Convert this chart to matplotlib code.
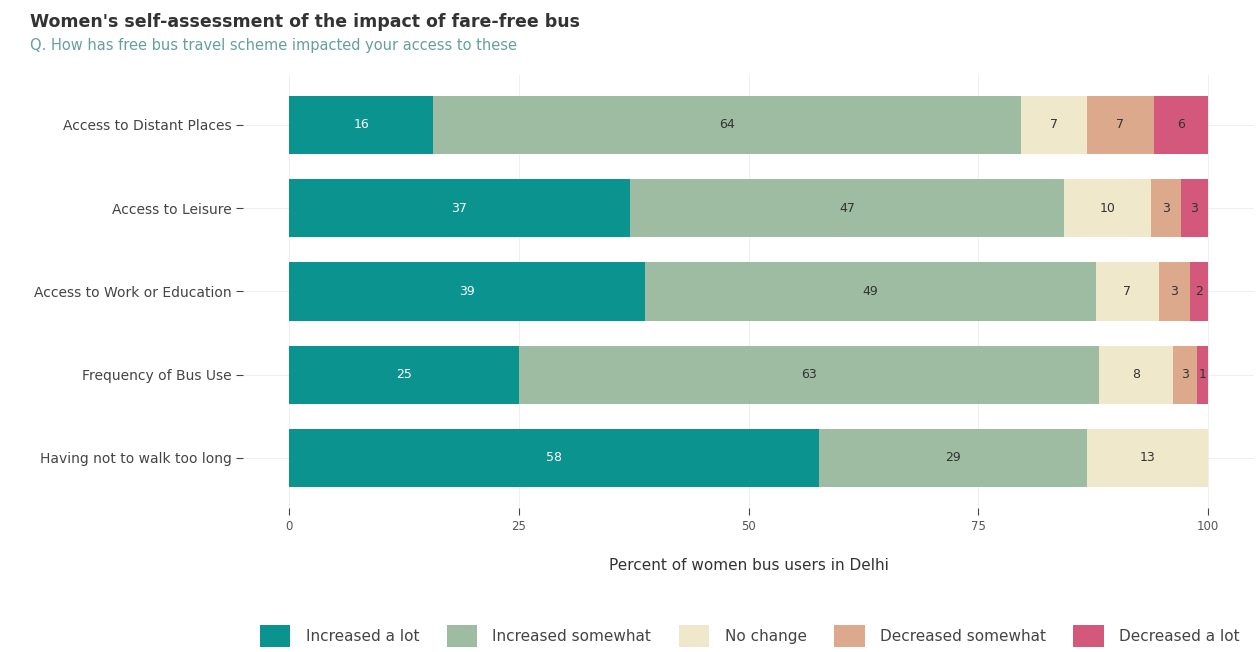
import numpy as np
import matplotlib
matplotlib.use("Agg")
import matplotlib.pyplot as plt
from matplotlib.patches import Patch

plt.rcParams['font.family'] = ['DejaVu Sans']

# data (percent, top category first)
categories = ["Access to Distant Places", "Access to Leisure", "Access to Work or Education",
              "Frequency of Bus Use", "Having not to walk too long"]
responses = ["Increased a lot", "Increased somewhat", "No change",
             "Decreased somewhat", "Decreased a lot"]
increased_lot = [15.7, 37.1, 38.7, 25.0, 57.7]
increased_some = [63.9, 47.2, 49.1, 63.1, 29.1]
no_change = [7.2, 9.5, 6.8, 8.1, 13.2]
decreased_some = [7.3, 3.2, 3.4, 2.6, 0.0]
decreased_lot = [5.9, 3.0, 2.0, 1.2, 0.0]

colors = ["#0b938f", "#9dbca1", "#efe8cb", "#dda98c", "#d4587c"]
text_colors = ["white", "#333333", "#333333", "#333333", "#333333"]

fig = plt.figure(figsize=(12.58, 6.52), dpi=100)
ax = fig.add_axes([0.1932, 0.221, 0.8037, 0.664])

series = [increased_lot, increased_some, no_change, decreased_some, decreased_lot]
y = np.arange(len(categories))[::-1]
left = np.zeros(len(categories))
for vals, col, tcol, name in zip(series, colors, text_colors, responses):
    vals = np.array(vals)
    ax.barh(y, vals, left=left, height=0.7, color=col, label=name, zorder=2)
    for yi, l, v in zip(y, left, vals):
        if v > 0:
            ax.text(l + v / 2, yi, f"{v:.0f}", ha='center', va='center',
                    fontsize=9, color=tcol, zorder=3)
    left += vals

# ggplot-like 5% expansion
ax.set_xlim(-5, 105)
ax.set_ylim(-0.6, 4.6)
ax.set_yticks(y)
ax.set_yticklabels(categories, fontsize=10, color="#444444")
ax.set_xticks([0, 25, 50, 75, 100])
ax.set_xticklabels(["0", "25", "50", "75", "100"], fontsize=8.5, color="#555555")
ax.tick_params(axis='y', length=5, width=0.8, color="#444444", pad=3)
ax.tick_params(axis='x', length=5, width=0.8, color="#444444", pad=4)
for s in ax.spines.values():
    s.set_visible(False)
ax.grid(True, color="#ececec", linewidth=0.6, zorder=0)
ax.set_axisbelow(True)
ax.set_xlabel("Percent of women bus users in Delhi", fontsize=11, color="#333333", labelpad=18)

fig.text(0.024, 0.967, "Women's self-assessment of the impact of fare-free bus",
         fontsize=12.5, fontweight='bold', color="#333333", va='center')
fig.text(0.024, 0.930, "Q. How has free bus travel scheme impacted your access to these",
         fontsize=10.5, color="#64a09d", va='center')

handles = [Patch(facecolor=c, edgecolor='none') for c in colors]
fig.legend(handles, responses, loc='center', bbox_to_anchor=(0.596, 0.0245), ncol=5,
           frameon=False, fontsize=11, handlelength=2.0, handleheight=1.9,
           columnspacing=1.8, handletextpad=1.0, labelcolor="#444444",
           borderaxespad=0, borderpad=0)

fig.savefig("out.png", dpi=100, facecolor="white")
